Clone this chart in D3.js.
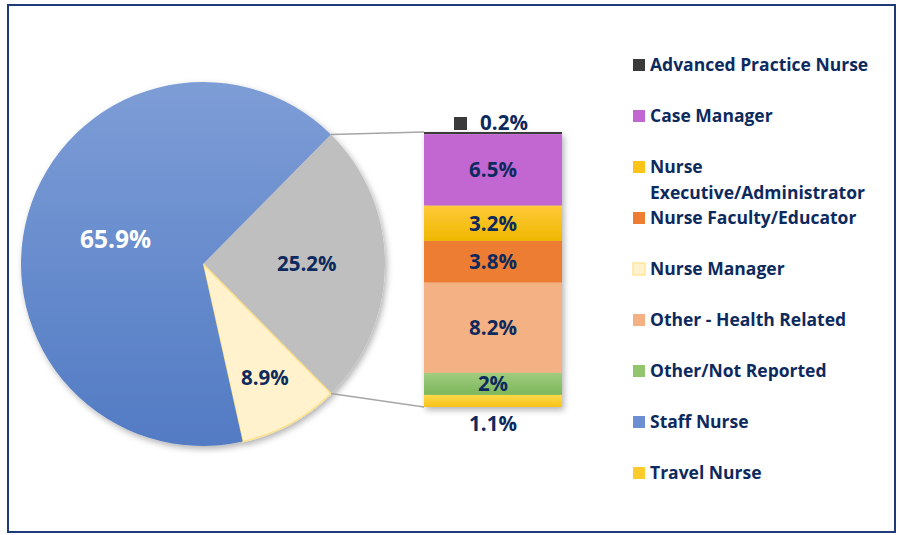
<!DOCTYPE html>
<html>
<head>
<meta charset="utf-8">
<script src="https://cdn.jsdelivr.net/npm/d3@7"></script>
<style>
  body { margin: 0; background: #fff; }
  svg { display: block; font-family: "Open Sans", Lato, sans-serif; font-weight: bold; }
</style>
</head>
<body>
<svg id="chart"></svg>
<script>
// pie: main slices, the gray one is broken out into the bar
var pieNames = ['Other', 'Nurse Manager', 'Staff Nurse'];
var pieValues = [25.2, 8.9, 65.9];
var pieLabels = ['25.2%', '8.9%', '65.9%'];

// bar of pie, top to bottom
var barNames = ['Advanced Practice Nurse', 'Case Manager', 'Nurse Executive/Administrator',
  'Nurse Faculty/Educator', 'Other - Health Related', 'Other/Not Reported', 'Travel Nurse'];
var barValues = [0.2, 6.5, 3.2, 3.8, 8.2, 2, 1.1];
var barLabels = ['0.2%', '6.5%', '3.2%', '3.8%', '8.2%', '2%', '1.1%'];

// legend order
var legendNames = ['Advanced Practice Nurse', 'Case Manager', 'Nurse Executive/Administrator',
  'Nurse Faculty/Educator', 'Nurse Manager', 'Other - Health Related', 'Other/Not Reported',
  'Staff Nurse', 'Travel Nurse'];

var colors = {
  'Advanced Practice Nurse': '#3a3a3a',
  'Case Manager': '#c266d2',
  'Nurse Executive/Administrator': 'url(#gYellow)',
  'Nurse Faculty/Educator': '#ed7d31',
  'Nurse Manager': '#fff2cc',
  'Other - Health Related': '#f4b183',
  'Other/Not Reported': 'url(#gGreen)',
  'Staff Nurse': 'url(#gBlue)',
  'Travel Nurse': 'url(#gTravel)',
  'Other': '#bfbfbf'
};
var keyColors = {
  'Nurse Executive/Administrator': '#fcc419',
  'Other/Not Reported': '#92c56e',
  'Staff Nurse': '#6b8fd2',
  'Travel Nurse': '#fdcc2c'
};
var navy = '#0d2a5e';

var w = 898, h = 535;
var svg = d3.select('#chart').attr('width', w).attr('height', h);

var defs = svg.append('defs');
function grad(id, c1, c2) {
  var g = defs.append('linearGradient').attr('id', id)
    .attr('x1', 0).attr('y1', 0).attr('x2', 0).attr('y2', 1);
  g.append('stop').attr('offset', '0%').attr('stop-color', c1);
  g.append('stop').attr('offset', '100%').attr('stop-color', c2);
}
grad('gBlue', '#7d9dd6', '#527bc4');
grad('gYellow', '#ffca3a', '#efb800');
grad('gGreen', '#a0cc80', '#7cb65a');
grad('gTravel', '#ffd94a', '#f7c21a');

var shadow = defs.append('filter').attr('id', 'shadow')
  .attr('x', '-10%').attr('y', '-10%').attr('width', '125%').attr('height', '125%');
shadow.append('feDropShadow').attr('dx', 2).attr('dy', 3).attr('stdDeviation', 3)
  .attr('flood-color', '#000').attr('flood-opacity', 0.3);

// frame
svg.append('rect').attr('x', 8).attr('y', 5).attr('width', 887).attr('height', 527)
  .attr('fill', 'none').attr('stroke', '#1f3a78').attr('stroke-width', 2);

// pie
var cx = 203, cy = 264, r = 182;
var gray0 = 2 * Math.PI * (pieValues[0] / d3.sum(pieValues));
var start = Math.PI / 2 - gray0 / 2;

var pie = d3.pie().sort(null).value(function(d) { return d; })
  .startAngle(start).endAngle(start + 2 * Math.PI);
var arcs = pie(pieValues);
var arc = d3.arc().innerRadius(0).outerRadius(r);

var pg = svg.append('g').attr('transform', 'translate(' + cx + ',' + cy + ')');
pg.append('g').attr('filter', 'url(#shadow)')
  .selectAll('path').data(arcs).enter().append('path')
  .attr('d', arc)
  .attr('fill', function(d, i) { return colors[pieNames[i]]; })
  .attr('stroke', function(d, i) { return i === 1 ? '#ffe28a' : 'none'; })
  .attr('stroke-width', 1.5);

var labelPos = [0.57, 0.71, 0.50];
pg.selectAll('text.pl').data(arcs).enter().append('text')
  .attr('class', 'pl')
  .attr('transform', function(d, i) {
    var a = (d.startAngle + d.endAngle) / 2;
    var rr = r * labelPos[i];
    return 'translate(' + (Math.sin(a) * rr) + ',' + (-Math.cos(a) * rr) + ')';
  })
  .attr('text-anchor', 'middle').attr('dy', '0.36em')
  .attr('font-size', function(d, i) { return i === 2 ? 24.5 : 20.5; })
  .attr('fill', function(d, i) { return i === 2 ? '#fff' : navy; })
  .text(function(d, i) { return pieLabels[i]; });

// bar
var bx0 = 424, bx1 = 562, by0 = 132, by1 = 407;
var stackTotal = d3.sum(barValues);
var y = d3.scaleLinear().domain([0, stackTotal]).range([by0, by1]);
var cum = 0;
var segs = barValues.map(function(v, i) {
  var s = { name: barNames[i], label: barLabels[i], y0: cum, y1: cum + v };
  cum += v;
  return s;
});

// connector lines from the gray slice edges to the bar
var pa = arcs[0];
var topPt = [cx + Math.sin(pa.startAngle) * r, cy - Math.cos(pa.startAngle) * r];
var botPt = [cx + Math.sin(pa.endAngle) * r, cy - Math.cos(pa.endAngle) * r];
svg.append('line').attr('x1', topPt[0]).attr('y1', topPt[1]).attr('x2', bx0).attr('y2', y(0))
  .attr('stroke', '#a6a6a6').attr('stroke-width', 1.5);
svg.append('line').attr('x1', botPt[0]).attr('y1', botPt[1]).attr('x2', bx0).attr('y2', y(stackTotal))
  .attr('stroke', '#a6a6a6').attr('stroke-width', 1.5);

var bg = svg.append('g');
bg.append('g').attr('filter', 'url(#shadow)')
  .selectAll('rect').data(segs).enter().append('rect')
  .attr('x', bx0).attr('width', bx1 - bx0)
  .attr('y', function(d) { return y(d.y0); })
  .attr('height', function(d) { return Math.max(1.5, y(d.y1) - y(d.y0)); })
  .attr('fill', function(d) { return colors[d.name]; });

var bmid = (bx0 + bx1) / 2;
bg.selectAll('text').data(segs).enter().append('text')
  .attr('x', function(d, i) { return i === 0 ? bmid + 11 : bmid; })
  .attr('y', function(d, i) {
    if (i === 0) return y(d.y0) - 9;
    if (i === segs.length - 1) return y(d.y1) + 17;
    return (y(d.y0) + y(d.y1)) / 2;
  })
  .attr('dy', '0.36em')
  .attr('text-anchor', 'middle')
  .attr('font-size', 20.5)
  .attr('fill', navy)
  .text(function(d) { return d.label; });
// legend key in the small label
bg.append('rect').attr('x', 454).attr('y', y(0) - 15).attr('width', 13).attr('height', 13)
  .attr('fill', colors[barNames[0]]);

// legend
var ly = d3.scalePoint().domain(legendNames).range([65, 473]);
var lg = svg.append('g').attr('font-size', 17.5).attr('fill', navy);
var items = lg.selectAll('g').data(legendNames).enter().append('g')
  .attr('transform', function(d) { return 'translate(633,' + ly(d) + ')'; });
items.append('rect').attr('x', 0).attr('y', -6).attr('width', 12).attr('height', 12)
  .attr('fill', function(d) { return keyColors[d] || colors[d]; })
  .attr('stroke', function(d) { return d === 'Nurse Manager' ? '#ffe699' : 'none'; })
  .attr('stroke-width', 1.5);
items.each(function(d) {
  var t = d3.select(this).append('text').attr('x', 17).attr('dy', '0.36em');
  if (d === 'Nurse Executive/Administrator') {
    t.append('tspan').attr('x', 17).attr('dy', '0.36em').text('Nurse');
    t.append('tspan').attr('x', 17).attr('dy', 26).text('Executive/Administrator');
    t.attr('dy', null);
  } else {
    t.text(d);
  }
});
</script>
</body>
</html>
